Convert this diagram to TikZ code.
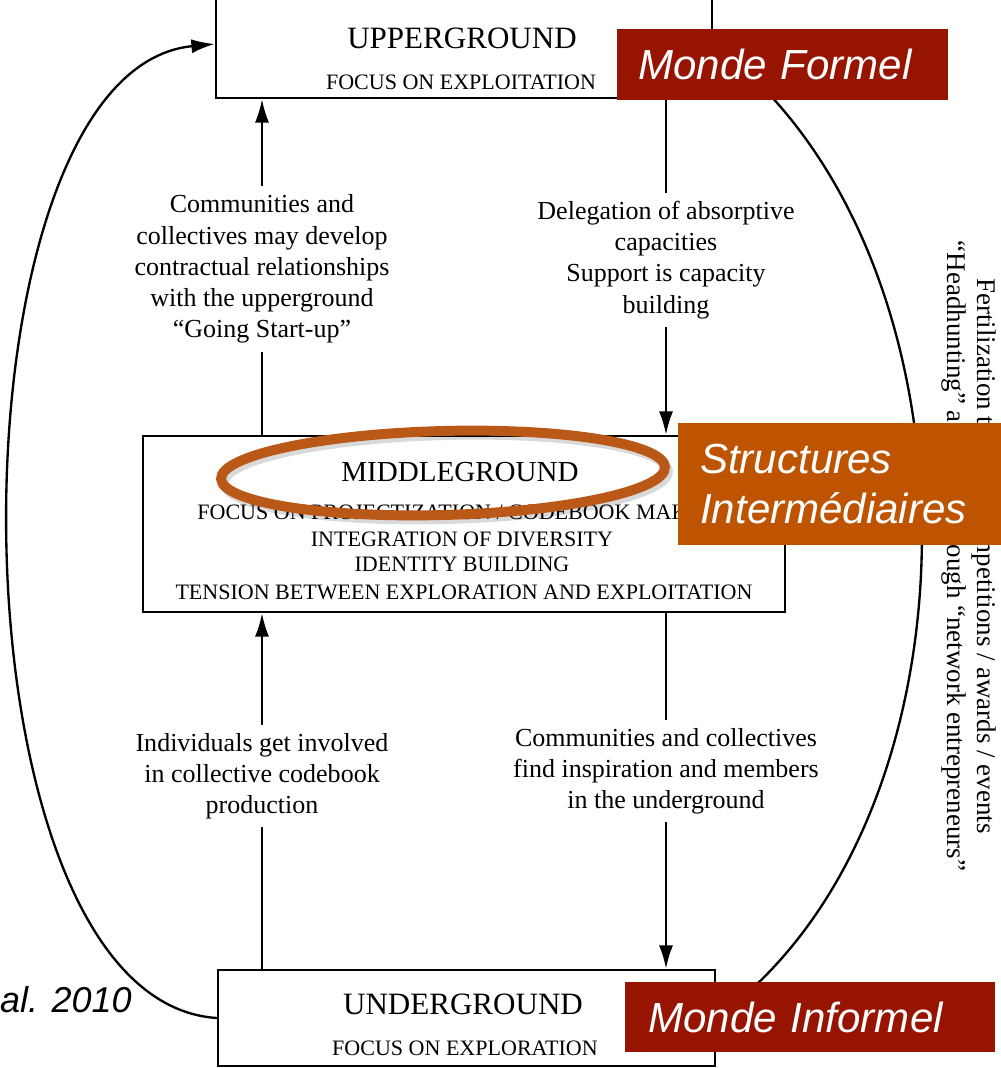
\documentclass[tikz,border=0pt]{standalone}
\usepackage{fontspec}
\setmainfont{Liberation Serif}
\newfontfamily\tagfont{Liberation Sans}
\usetikzlibrary{arrows.meta}
\definecolor{formelred}{RGB}{150,20,0}
\definecolor{interorange}{RGB}{190,84,0}
\definecolor{ringorange}{RGB}{186,88,24}
\begin{document}
\begin{tikzpicture}[x=0.03cm,y=-0.03cm]
	\tikzstyle{every node}+=[inner sep=0pt]
	\tikzstyle{groundbox}=[draw, line width=2pt]
	\tikzstyle{bigtitle}=[font=\fontsize{26.5}{30}\selectfont]
	\tikzstyle{subtitle}=[font=\fontsize{18.8}{22}\selectfont]
	\tikzstyle{link}=[align=center, inner sep=7pt, font=\fontsize{22.2}{26.6}\selectfont]
	\tikzstyle{plain}=[line width=2pt]
	\tikzstyle{flow}=[plain, -{Latex[length=20pt,width=12pt]}]
	\tikzstyle{tag}=[text=white, align=left, font=\tagfont\itshape\fontsize{35.9}{42.7}\selectfont]
	\useasboundingbox (0,0) rectangle (1000,1068);

	% the three grounds
	\node[groundbox, minimum width=14.88cm, minimum height=3.24cm] (upbox) at (464,44) {};
	\node[bigtitle] (uptitle) at (462,38) {UPPERGROUND};
	\node[subtitle] (upsub) at (461,82) {FOCUS ON EXPLOITATION};

	\node[groundbox, minimum width=19.26cm, minimum height=5.28cm] (midbox) at (464,524) {};
	\node[font=\fontsize{24.8}{28}\selectfont] (midtitle) at (460,472) {MIDDLEGROUND};
	\node[subtitle] (midfocus) at (462,512) {FOCUS ON PROJECTIZATION / CODEBOOK MAKING};
	\node[subtitle] (midinteg) at (462,539) {INTEGRATION OF DIVERSITY};
	\node[subtitle] (mididen) at (462,564) {IDENTITY BUILDING};
	\node[subtitle] (midtens) at (464,592) {TENSION BETWEEN EXPLORATION AND EXPLOITATION};

	\node[groundbox, minimum width=14.91cm, minimum height=2.88cm] (lowbox) at (466.5,1018) {};
	\node[bigtitle] (lowtitle) at (463,1004) {UNDERGROUND};
	\node[subtitle] (lowsub) at (465,1048) {FOCUS ON EXPLORATION};

	% labels on the vertical links
	\node[link] (upleft) at (262,269) {Communities and\\collectives may develop\\contractual relationships\\with the upperground\\``Going Start-up''};
	\node[link] (upright) at (666,260) {Delegation of absorptive\\capacities\\Support is capacity\\building};
	\node[link] (lowleft) at (262,776) {Individuals get involved\\in collective codebook\\production};
	\node[link] (lowright) at (666,771) {Communities and collectives\\find inspiration and members\\in the underground};

	\draw[plain] (upleft) -- (upleft |- midbox.north);
	\draw[flow] (upleft) -- (upleft |- upbox.south);
	\draw[plain] (upright) -- (upright |- upbox.south);
	\draw[flow] (upright) -- (upright |- midbox.north);
	\draw[flow] (lowleft) -- (lowleft |- midbox.south);
	\draw[plain] (lowleft) -- (lowleft |- lowbox.north);
	\draw[plain] (lowright) -- (lowright |- midbox.south);
	\draw[flow] (lowright) -- (lowright |- lowbox.north);

	% outer loops
	\draw[flow] (lowbox.west) .. controls (-60,1000) and (-60,70) .. (upbox.west);
	\draw[plain] (upbox.east) .. controls (991,250) and (991,820) .. (lowbox.east);
	\node[rotate=-90, align=center, font=\fontsize{23}{25.6}\selectfont] (fertil) at (969,556) {Fertilization through competitions / awards / events\\``Headhunting'' activities through ``network entrepreneurs''};

	% overlays
	\draw[line width=8.5pt, black, opacity=0.15, rotate around={1.5:(446,477)}] (446,477) ellipse [x radius=6.66cm, y radius=1.26cm];
	\draw[line width=8.5pt, ringorange, rotate around={1.5:(443,473)}] (443,473) ellipse [x radius=6.66cm, y radius=1.26cm];
	\node[tag, fill=formelred, anchor=west, inner xsep=0.63cm, text width=8.67cm, minimum height=2.13cm] (formel) at (617,64.5) {Monde Formel};
	\node[tag, fill=interorange, anchor=west, inner xsep=0.66cm, text width=8.49cm, minimum height=3.66cm] (inter) at (678,484) {Structures\\Intermédiaires};
	\node[tag, fill=formelred, anchor=west, inner xsep=0.69cm, text width=9.72cm, minimum height=2.1cm] (informel) at (625,1017) {Monde Informel};
	\node[anchor=base west, font=\tagfont\itshape\fontsize{30.7}{34}\selectfont] (source) at (0,1012) {al. 2010};
\end{tikzpicture}
\end{document}
